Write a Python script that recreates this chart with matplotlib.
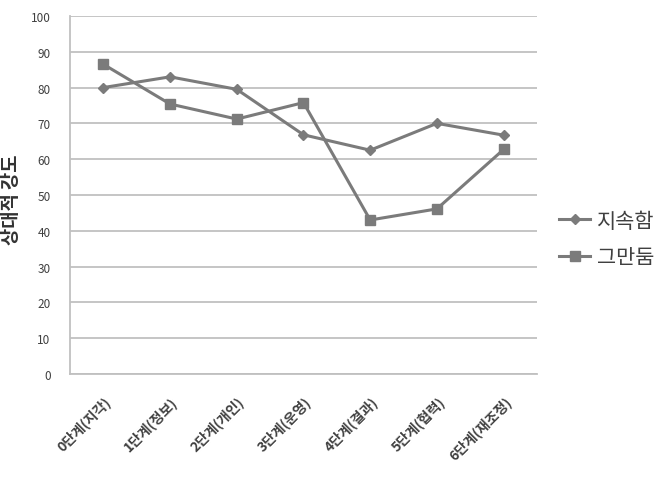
import matplotlib.pyplot as plt

plt.rcParams['font.family'] = ['Noto Sans CJK KR', 'DejaVu Sans']

# Datos del gráfico
categorias = ['0단계(지각)', '1단계(정보)', '2단계(개인)', '3단계(운영)',
              '4단계(결과)', '5단계(협력)', '6단계(재조정)']
jisokham = [80, 83, 79.5, 66.8, 62.5, 70, 66.7]
geumandum = [86.5, 75.4, 71.2, 75.8, 43, 46.1, 62.7]
yticks = list(range(0, 101, 10))

color_linea = '#7b7b7b'
color_grid = '#c0c0c0'

fig = plt.figure(figsize=(6.67, 4.85), dpi=100)
ax = fig.add_axes([0.105, 0.227, 0.70, 0.738])

x = range(len(categorias))
ax.plot(x, jisokham, color=color_linea, lw=2.2, marker='D', ms=5.5,
        label='지속함')
ax.plot(x, geumandum, color=color_linea, lw=2.2, marker='s', ms=7.5,
        label='그만둠')

ax.set_xlim(-0.5, len(categorias) - 0.5)
ax.set_ylim(0, 100)
ax.set_yticks(yticks)
ax.yaxis.grid(True, color=color_grid, lw=1.3)
ax.set_axisbelow(True)

for s in ['top', 'right']:
    ax.spines[s].set_visible(False)
for s in ['left', 'bottom']:
    ax.spines[s].set_color(color_grid)
    ax.spines[s].set_linewidth(1.3)

ax.tick_params(axis='y', length=0, labelsize=8.5, colors='#404040', pad=14)
ax.tick_params(axis='x', length=0, labelsize=10, colors='#404040', pad=14)
ax.set_xticks(list(x))
ax.set_xticklabels(categorias, rotation=45, ha='right', rotation_mode='anchor',
                   fontweight='bold')

ax.set_ylabel('상대적 강도', fontsize=13.5, fontweight='bold', color='#333333')
ax.yaxis.set_label_coords(-0.105, 0.49)

fig.legend(loc='center left', bbox_to_anchor=(0.81, 0.505), frameon=False,
           fontsize=15, handlelength=1.5, handletextpad=0.3,
           labelspacing=0.7, labelcolor='#404040')

fig.savefig('out.png', dpi=100, facecolor='white')
